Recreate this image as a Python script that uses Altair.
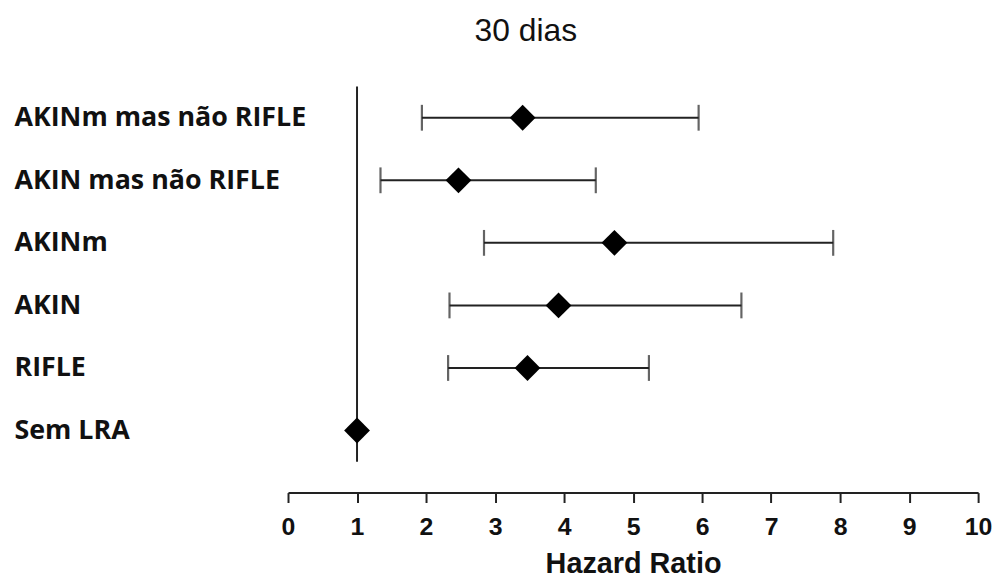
import altair as alt
import pandas as pd

categories = ["AKINm mas não RIFLE", "AKIN mas não RIFLE", "AKINm", "AKIN", "RIFLE", "Sem LRA"]
hazard = [3.40, 2.47, 4.73, 3.92, 3.47, 1.0]
ci_low = [1.94, 1.34, 2.84, 2.34, 2.32, None]
ci_high = [5.95, 4.46, 7.90, 6.57, 5.23, None]
x_ticks = list(range(0, 11))
ref_value = [1]

pts = pd.DataFrame({"cat": categories, "hr": hazard})
ci = pd.DataFrame({"cat": categories, "lo": ci_low, "hi": ci_high}).dropna()
ref = pd.DataFrame({"x": ref_value})

ink = "#111111"

xscale = alt.Scale(domain=[0, 10], nice=False, zero=False)
yenc = alt.Y(
    "cat:N",
    sort=categories,
    scale=alt.Scale(type="point", padding=0.5),
    axis=alt.Axis(
        title=None, domain=False, ticks=False, tickSize=0,
        labelAlign="left", labelPadding=276, labelLimit=500,
        labelFont="Open Sans", labelFontWeight="bold", labelFontSize=27,
        labelColor=ink,
    ),
)

xaxis = alt.Axis(
    values=x_ticks, format="d", title="Hazard Ratio", grid=False, offset=31,
    tickSize=10, tickWidth=2, tickColor="#222222",
    domainWidth=2, domainColor="#222222",
    labelFlush=False, labelOverlap=False,
    labelFont="Liberation Sans Narrow, Liberation Sans", labelFontWeight="bold",
    labelFontSize=25, labelColor=ink, labelPadding=12,
    titleFont="Liberation Sans", titleFontWeight="bold", titleFontSize=29,
    titleColor=ink, titlePadding=10,
)

refline = alt.Chart(ref).mark_rule(color="#222222", strokeWidth=2).encode(
    x=alt.X("x:Q", scale=xscale, axis=xaxis)
)

bars = alt.Chart(ci).mark_rule(color="#222222", strokeWidth=2).encode(
    x=alt.X("lo:Q", scale=xscale),
    x2="hi:Q",
    y=yenc,
)

cap_lo = alt.Chart(ci).mark_tick(color="#222222", thickness=2.2, size=26).encode(
    x=alt.X("lo:Q", scale=xscale), y=yenc
)
cap_hi = alt.Chart(ci).mark_tick(color="#222222", thickness=2.2, size=26).encode(
    x=alt.X("hi:Q", scale=xscale), y=yenc
)

points = alt.Chart(pts).mark_point(
    shape="diamond", filled=True, size=676, color="black", opacity=1
).encode(x=alt.X("hr:Q", scale=xscale), y=yenc)

chart = alt.layer(refline, bars, cap_lo, cap_hi, points).properties(
    width=695,
    height=378,
    background="white",
    autosize=alt.AutoSizeParams(type="none"),
    padding={"left": 282, "top": 77, "right": 16, "bottom": 117},
    title=alt.TitleParams(
        "30 dias", font="Liberation Sans", fontSize=32, fontWeight="normal",
        color=ink, offset=38, dx=-108, anchor="middle",
    ),
).configure_view(strokeWidth=0, stroke="transparent")

chart.save("out.html", embed_options={"renderer": "svg", "actions": False})
